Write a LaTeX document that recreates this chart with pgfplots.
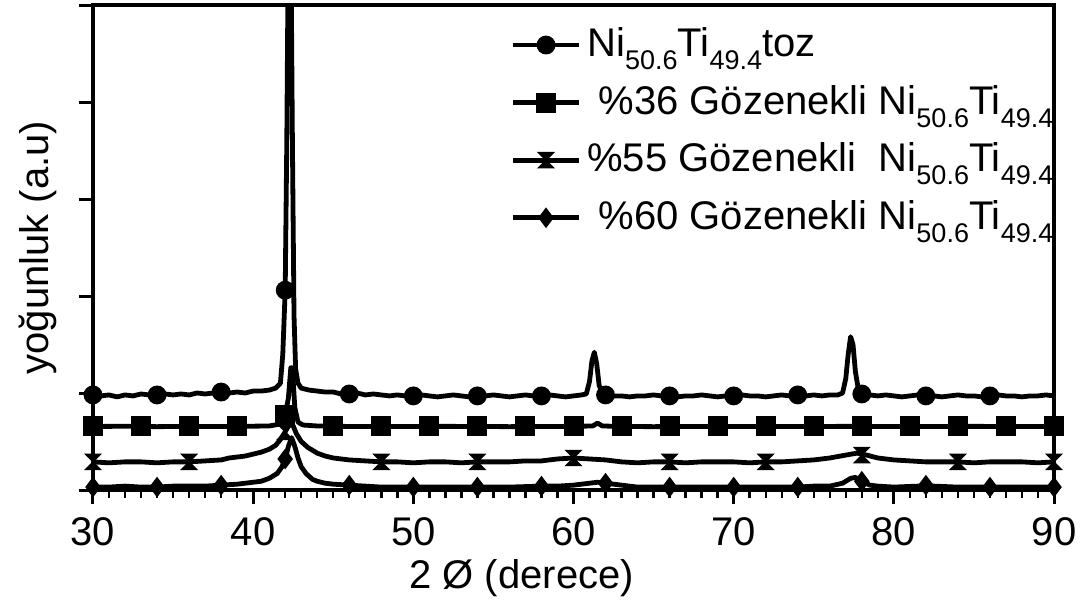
\documentclass[border=0pt]{standalone}
\usepackage{pgfplots}
\pgfplotsset{compat=1.18}
\usepackage{fontspec}
\setmainfont{Liberation Sans}
\pgfdeclareplotmark{hourglass}{%
  \pgfpathmoveto{\pgfqpoint{-\pgfplotmarksize}{\pgfplotmarksize}}%
  \pgfpathlineto{\pgfqpoint{\pgfplotmarksize}{\pgfplotmarksize}}%
  \pgfpathlineto{\pgfqpoint{-\pgfplotmarksize}{-\pgfplotmarksize}}%
  \pgfpathlineto{\pgfqpoint{\pgfplotmarksize}{-\pgfplotmarksize}}%
  \pgfpathclose
  \pgfusepathqfillstroke}
\newcommand{\sub}[1]{\raisebox{-0.33em}{\fontsize{13.5}{16}\selectfont #1}}
\begin{document}
\fontsize{20}{24}\selectfont
\begin{tikzpicture}
\begin{axis}[
  scale only axis, width=480.5pt, height=242.5pt,
  xmin=30, xmax=90, ymin=0, ymax=5,
  xtick={30,40,...,90}, minor x tick num=9,
  ytick={0,1,2,3,4,5}, yticklabels={},
  tick align=outside, xtick pos=bottom, ytick pos=left,
  major tick length=7pt, minor tick length=4pt,
  axis line style={line width=2pt},
  major tick style={line width=1.5pt, black},
  minor tick style={line width=1.2pt, black},
  tick label style={font=\fontsize{20}{24}\selectfont},
  /pgf/number format/assume math mode=true,
  xlabel={2 Ø (derece)},
  ylabel={yoğunluk (a.u)},
  xlabel style={at={(axis description cs:0.446,-0.181)}, anchor=center, font=\fontsize{20}{24}\selectfont},
  ylabel style={at={(axis description cs:-0.057,0.5)}, anchor=center, font=\fontsize{20}{24}\selectfont},
  legend style={at={(axis description cs:0.43,0.975)}, anchor=north west, draw=none, fill=none,
    font=\fontsize{20}{24}\selectfont, row sep=5.3pt, inner sep=2pt, nodes={inner sep=3pt}},
  legend cell align=left,
  legend image code/.code={\draw[#1] plot coordinates {(0pt,0pt) (16.5pt,0pt) (33pt,0pt)};},
  every axis plot/.append style={line width=2.4pt, black},
]
\coordinate (SW) at (rel axis cs:0,0);
\coordinate (NE) at (rel axis cs:1,1);
\addlegendimage{line width=2.4pt, mark=*, mark size=3.5pt, mark repeat=2, mark phase=2}
\addlegendentry{Ni\sub{50.6}Ti\sub{49.4}toz}
\addlegendimage{line width=2.4pt, mark=square*, mark size=3.8pt, mark repeat=2, mark phase=2}
\addlegendentry{\ \%36 Gözenekli Ni\sub{50.6}Ti\sub{49.4}}
\addlegendimage{line width=2.4pt, mark=hourglass, mark size=3.8pt, mark options={line width=0.6pt}, mark repeat=2, mark phase=2}
\addlegendentry{\%55 Gözenekli\ \ Ni\sub{50.6}Ti\sub{49.4}}
\addlegendimage{line width=2.4pt, mark=diamond*, mark size=3.2pt, mark repeat=2, mark phase=2}
\addlegendentry{\ \%60 Gözenekli Ni\sub{50.6}Ti\sub{49.4}}

% toz
\addplot[forget plot, line join=round] coordinates {
(30,0.98)(30.5,0.97)(31,0.98)(31.5,0.96)(32,0.98)(32.5,0.97)(33,0.99)(33.5,0.98)(34,0.98)(34.5,0.99)
(35,0.98)(35.5,0.99)(36,0.98)(36.5,1.00)(37,0.99)(37.5,1.00)(38,1.01)(38.5,1.00)(39,1.01)(39.5,1.00)
(40,1.02)(40.5,1.02)(41,1.03)(41.4,1.05)(41.7,1.10)(41.85,1.40)(42.0,2.06)(42.1,3.60)(42.2,5.80)
(42.35,5.80)(42.45,3.60)(42.55,1.80)(42.65,1.25)(42.8,1.10)(43.0,1.05)(43.5,1.03)(44,1.02)(44.5,1.01)
(45,1.01)(45.5,0.99)(46,0.99)(46.5,1.00)(47,0.98)(47.5,0.99)(48,0.98)(48.5,0.97)(49,0.98)(49.5,0.97)
(50,0.97)(50.5,0.98)(51,0.97)(51.5,0.96)(52,0.97)(52.5,0.98)(53,0.97)(53.5,0.96)(54,0.97)(54.5,0.97)
(55,0.98)(55.5,0.97)(56,0.96)(56.5,0.97)(57,0.98)(57.5,0.97)(58,0.97)(58.5,0.98)(59,0.97)(59.5,0.96)
(60,0.97)(60.5,0.98)(60.8,0.99)(61.0,1.12)(61.15,1.33)(61.3,1.42)(61.45,1.30)(61.6,1.08)(61.8,1.00)
(62,0.98)(62.5,0.97)(63,0.97)(63.5,0.96)(64,0.97)(64.5,0.97)(65,0.98)(65.5,0.97)(66,0.97)(66.5,0.96)
(67,0.97)(67.5,0.97)(68,0.98)(68.5,0.97)(69,0.96)(69.5,0.97)(70,0.97)(70.5,0.98)(71,0.97)(71.5,0.97)
(72,0.96)(72.5,0.97)(73,0.98)(73.5,0.97)(74,0.98)(74.5,0.97)(75,0.98)(75.5,0.97)(76,0.98)(76.5,0.98)
(76.8,1.00)(77.0,1.15)(77.15,1.40)(77.3,1.58)(77.45,1.50)(77.6,1.22)(77.8,1.02)(78,0.99)(78.5,0.98)
(79,0.97)(79.5,0.98)(80,0.97)(80.5,0.96)(81,0.97)(81.5,0.98)(82,0.97)(82.5,0.97)(83,0.96)(83.5,0.97)
(84,0.98)(84.5,0.97)(85,0.97)(85.5,0.96)(86,0.97)(86.5,0.98)(87,0.97)(87.5,0.97)(88,0.96)(88.5,0.97)
(89,0.97)(89.5,0.98)(90,0.97)};
\addplot[forget plot, only marks, mark=*, mark size=3.5pt] coordinates {
(30,0.98)(34,0.98)(38,1.01)(42,2.06)(46,0.99)(50,0.97)(54,0.97)(58,0.97)(62,0.98)(66,0.97)
(70,0.97)(74,0.98)(78,0.99)(82,0.97)(86,0.97)};

% %36
\addplot[forget plot, line join=round] coordinates {
(30,0.655)(32,0.657)(34,0.653)(36,0.656)(38,0.655)(40,0.658)(41,0.66)(41.7,0.68)(42.0,0.77)
(42.2,0.95)(42.35,1.26)(42.45,1.26)(42.6,0.85)(42.8,0.70)(43.1,0.67)(44,0.66)(46,0.655)(48,0.653)
(50,0.655)(52,0.656)(54,0.655)(56,0.653)(58,0.655)(60,0.656)(61.2,0.66)(61.5,0.69)(61.8,0.66)
(63,0.655)(65,0.653)(67,0.655)(69,0.656)(71,0.655)(73,0.654)(75,0.655)(77,0.656)(79,0.655)
(81,0.654)(83,0.655)(85,0.656)(87,0.655)(90,0.655)};
\addplot[forget plot, only marks, mark=square*, mark size=3.8pt] coordinates {
(30,0.655)(33,0.655)(36,0.655)(39,0.655)(42,0.77)(45,0.655)(48,0.655)(51,0.655)(54,0.655)(57,0.655)
(60,0.655)(63,0.655)(66,0.655)(69,0.655)(72,0.655)(75,0.655)(78,0.655)(81,0.655)(84,0.655)(87,0.655)(90,0.655)};

% %55
\addplot[forget plot, line join=round] coordinates {
(30,0.29)(31,0.28)(32,0.29)(33,0.29)(34,0.28)(35,0.29)(36,0.29)(37,0.30)(38,0.31)(38.5,0.33)
(39,0.34)(39.5,0.35)(40,0.37)(40.5,0.39)(41,0.42)(41.4,0.46)(41.7,0.52)(42,0.60)(42.2,0.66)
(42.35,0.68)(42.5,0.66)(42.7,0.58)(43,0.50)(43.4,0.44)(44,0.38)(44.5,0.35)(45,0.33)(46,0.31)
(47,0.30)(48,0.29)(49,0.29)(50,0.28)(51,0.29)(52,0.29)(53,0.28)(54,0.29)(55,0.29)(56,0.29)
(57,0.30)(58,0.30)(58.5,0.31)(59,0.32)(60,0.33)(61,0.32)(62,0.31)(63,0.29)(64,0.28)(65,0.29)
(66,0.29)(67,0.28)(68,0.29)(69,0.29)(70,0.29)(71,0.28)(72,0.29)(73,0.29)(74,0.30)(75,0.31)
(76,0.33)(77,0.36)(77.7,0.38)(78.3,0.36)(79,0.33)(80,0.31)(81,0.30)(82,0.29)(83,0.29)(84,0.29)
(85,0.28)(86,0.29)(87,0.29)(88,0.29)(89,0.28)(90,0.29)};
\addplot[forget plot, only marks, mark=hourglass, mark size=3.8pt, mark options={line width=0.6pt}] coordinates {
(30,0.29)(36,0.29)(42,0.60)(48,0.29)(54,0.29)(60,0.33)(66,0.29)(72,0.29)(78,0.36)(84,0.29)(90,0.29)};

% %60
\addplot[forget plot, line join=round] coordinates {
(30,0.03)(31,0.03)(32,0.04)(33,0.03)(34,0.03)(35,0.04)(36,0.04)(37,0.04)(38,0.05)(39,0.06)
(40,0.08)(40.5,0.09)(41,0.12)(41.5,0.17)(41.8,0.24)(42.0,0.32)(42.2,0.45)(42.4,0.54)(42.6,0.45)
(42.8,0.33)(43,0.24)(43.3,0.17)(43.7,0.11)(44,0.09)(44.5,0.07)(45,0.06)(46,0.05)(47,0.04)(48,0.03)
(50,0.03)(52,0.03)(54,0.03)(56,0.03)(58,0.04)(59,0.04)(60,0.05)(61,0.07)(61.5,0.08)(62,0.07)
(63,0.05)(64,0.03)(66,0.03)(68,0.03)(70,0.03)(72,0.03)(74,0.03)(75,0.04)(76,0.04)(76.8,0.07)
(77.3,0.12)(77.6,0.13)(78,0.09)(78.5,0.05)(79,0.04)(80,0.03)(81.5,0.04)(82,0.05)(82.5,0.04)
(84,0.03)(86,0.03)(88,0.03)(90,0.03)};
\addplot[forget plot, only marks, mark=diamond*, mark size=3.2pt] coordinates {
(30,0.03)(34,0.03)(38,0.05)(42,0.32)(46,0.05)(50,0.03)(54,0.03)(58,0.04)(62,0.07)(66,0.03)
(70,0.03)(74,0.03)(78,0.09)(82,0.05)(86,0.03)(90,0.03)};
\end{axis}
\pgfresetboundingbox
\path[use as bounding box] ([xshift=-46.5pt,yshift=-59pt]SW) rectangle ([xshift=14.5pt,yshift=2.5pt]NE);
\end{tikzpicture}
\end{document}
